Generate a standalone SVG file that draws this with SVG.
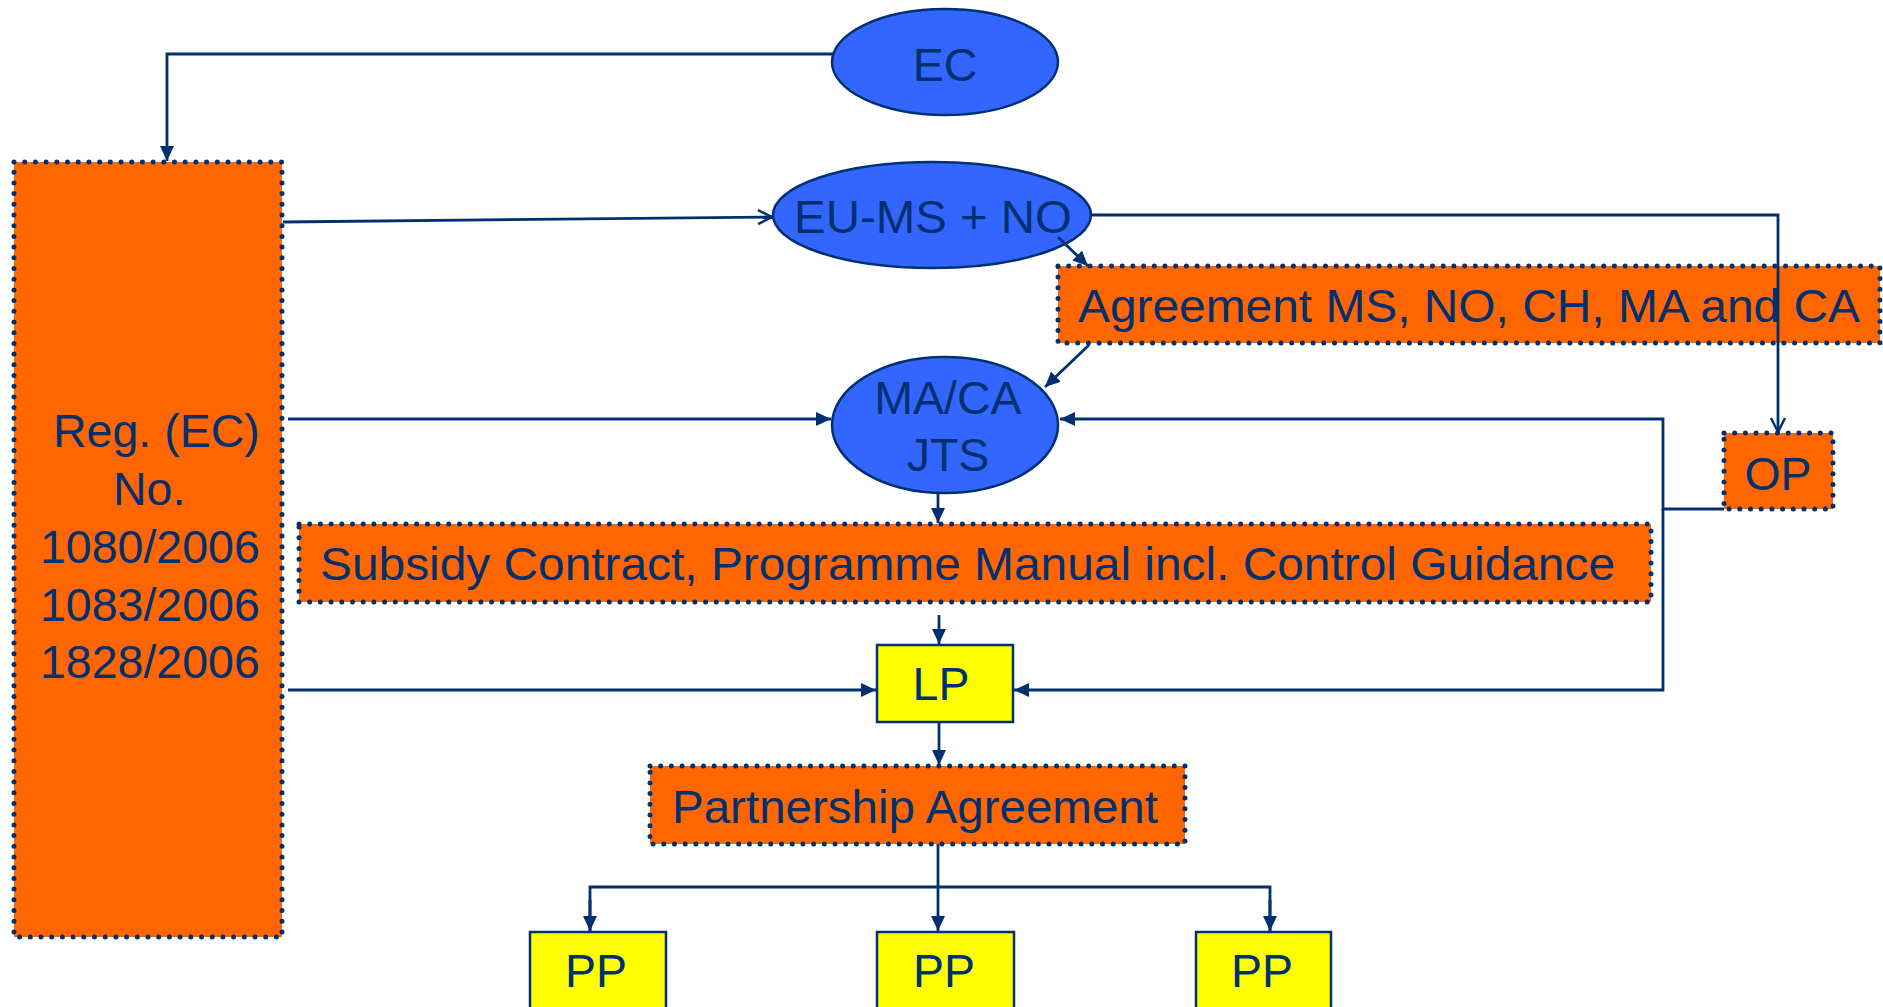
<svg xmlns="http://www.w3.org/2000/svg" width="1883" height="1007" viewBox="0 0 1883 1007">
<style>
.t{font-family:"Liberation Sans",Arial,sans-serif;font-size:46.5px;fill:#003070}
.c{text-anchor:middle}
.ell{fill:#3366FF;stroke:#003070;stroke-width:2.5}
.or{fill:#FF6600}
.dot{fill:none;stroke:#003070;stroke-width:5;stroke-dasharray:0 10.7;stroke-linecap:round}
.yel{fill:#FFFF00;stroke:#003070;stroke-width:2.5}
.ln{fill:none;stroke:#003070;stroke-width:2.8}
</style>
<defs>
<marker id="af" markerUnits="userSpaceOnUse" markerWidth="18" markerHeight="16" refX="15" refY="7" orient="auto">
<path d="M0,0 L15,7 L0,14 z" fill="#003070"/>
</marker>
<marker id="ao" markerUnits="userSpaceOnUse" markerWidth="18" markerHeight="18" refX="15" refY="8" orient="auto">
<path d="M1,1 L15,8 L1,15" fill="none" stroke="#003070" stroke-width="2.4"/>
</marker>
</defs>
<rect width="1883" height="1007" fill="#FFFFFF"/>

<g id="ec">
<ellipse class="ell" cx="945" cy="62" rx="113" ry="53"/>
<text class="t c" x="945" y="81">EC</text>
</g>

<g id="reg">
<rect class="or" x="14" y="162" width="268" height="775"/>
<rect class="dot" x="14" y="162" width="268" height="775"/>
<text class="t" x="53" y="447">Reg. (EC)</text>
<text class="t" x="113" y="505">No.</text>
<text class="t" x="40" y="563">1080/2006</text>
<text class="t" x="40" y="621">1083/2006</text>
<text class="t" x="40" y="678">1828/2006</text>
</g>

<g id="eums">
<ellipse class="ell" cx="932" cy="215" rx="159" ry="53"/>
<text class="t" x="794" y="233" textLength="278" lengthAdjust="spacingAndGlyphs">EU-MS + NO</text>
</g>

<g id="agreement">
<rect class="or" x="1058" y="266" width="822" height="77"/>
<rect class="dot" x="1058" y="266" width="822" height="77"/>
<text class="t" x="1078" y="322" textLength="782" lengthAdjust="spacingAndGlyphs">Agreement MS, NO, CH, MA and CA</text>
</g>

<g id="maca">
<ellipse class="ell" cx="945" cy="425" rx="113" ry="68"/>
<text class="t c" x="948" y="414">MA/CA</text>
<text class="t c" x="948" y="471">JTS</text>
</g>

<g id="op">
<rect class="or" x="1724" y="433" width="109" height="76"/>
<rect class="dot" x="1724" y="433" width="109" height="76"/>
<text class="t c" x="1778" y="490">OP</text>
</g>

<g id="subsidy">
<rect class="or" x="299" y="524" width="1352" height="78"/>
<rect class="dot" x="299" y="524" width="1352" height="78"/>
<text class="t" x="320" y="580" textLength="1295" lengthAdjust="spacingAndGlyphs">Subsidy Contract, Programme Manual incl. Control Guidance</text>
</g>

<g id="lp">
<rect class="yel" x="877" y="645" width="136" height="77"/>
<text class="t c" x="941" y="700">LP</text>
</g>

<g id="partnership">
<rect class="or" x="650" y="766" width="535" height="78"/>
<rect class="dot" x="650" y="766" width="535" height="78"/>
<text class="t" x="672" y="823" textLength="486" lengthAdjust="spacingAndGlyphs">Partnership Agreement</text>
</g>

<g id="pp1">
<rect class="yel" x="530" y="932" width="136" height="85"/>
<text class="t c" x="596" y="987">PP</text>
</g>
<g id="pp2">
<rect class="yel" x="877" y="932" width="137" height="85"/>
<text class="t c" x="944" y="987">PP</text>
</g>
<g id="pp3">
<rect class="yel" x="1196" y="932" width="135" height="85"/>
<text class="t c" x="1262" y="987">PP</text>
</g>

<g id="connectors">
<polyline class="ln" points="833,54 167,54 167,161" marker-end="url(#af)"/>
<line class="ln" x1="283" y1="222" x2="772" y2="217" marker-end="url(#ao)"/>
<line class="ln" x1="1058" y1="237" x2="1088" y2="266" marker-end="url(#af)"/>
<polyline class="ln" points="1091,215 1778,215 1778,432" marker-end="url(#ao)"/>
<line class="ln" x1="1089" y1="345" x2="1045" y2="387" marker-end="url(#af)"/>
<line class="ln" x1="288" y1="419" x2="831" y2="419" marker-end="url(#af)"/>
<polyline class="ln" points="1724,509 1663,509 1663,419 1060,419" marker-end="url(#af)"/>
<polyline class="ln" points="1663,509 1663,690 1014,690" marker-end="url(#af)"/>
<line class="ln" x1="288" y1="690" x2="876" y2="690" marker-end="url(#af)"/>
<line class="ln" x1="938" y1="494" x2="938" y2="523" marker-end="url(#af)"/>
<line class="ln" x1="939" y1="615" x2="939" y2="644" marker-end="url(#af)"/>
<line class="ln" x1="939" y1="722" x2="939" y2="765" marker-end="url(#af)"/>
<line class="ln" x1="938" y1="844" x2="938" y2="931" marker-end="url(#af)"/>
<polyline class="ln" points="590,931 590,887 1270,887 1270,931"/>
<line class="ln" x1="590" y1="900" x2="590" y2="931" marker-end="url(#af)"/>
<line class="ln" x1="1270" y1="900" x2="1270" y2="931" marker-end="url(#af)"/>
</g>
</svg>
